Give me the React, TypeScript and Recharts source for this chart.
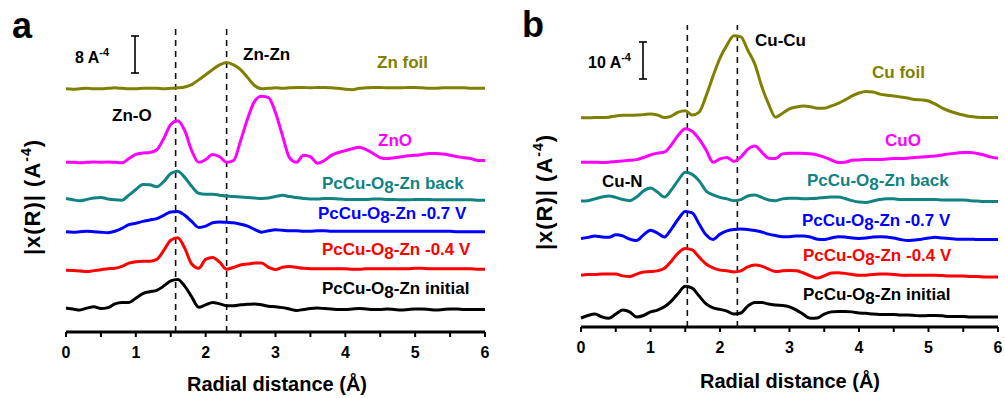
import React from 'react';
import { LineChart, Line, XAxis, YAxis, ReferenceLine } from 'recharts';

const FONT = '"Liberation Sans", Arial, Helvetica, sans-serif';

// radial distance grid (Å)
const radius = [
  0, 0.1, 0.2, 0.3, 0.4, 0.5, 0.6, 0.7, 0.8, 0.9,
  1, 1.1, 1.2, 1.3, 1.4, 1.5, 1.6, 1.7, 1.8, 1.9,
  2, 2.1, 2.2, 2.3, 2.4, 2.5, 2.6, 2.7, 2.8, 2.9,
  3, 3.1, 3.2, 3.3, 3.4, 3.5, 3.6, 3.7, 3.8, 3.9,
  4, 4.1, 4.2, 4.3, 4.4, 4.5, 4.6, 4.7, 4.8, 4.9,
  5, 5.1, 5.2, 5.3, 5.4, 5.5, 5.6, 5.7, 5.8, 5.9,
  6,
];

const xTicks = [0, 0.5, 1, 1.5, 2, 2.5, 3, 3.5, 4, 4.5, 5, 5.5, 6];

// ---- panel a : Zn K-edge, stacked |x(R)| ----
const znFoil = [
  51.9, 51.8, 51.9, 52.0, 51.9, 51.9, 52.0, 52.1, 52.0, 51.9,
  51.9, 52.0, 52.0, 52.0, 51.9, 52.0, 52.1, 52.3, 52.8, 53.8,
  54.9, 56.0, 57.0, 57.5, 57.0, 56.0, 54.3, 52.6, 51.9, 52.0,
  52.1, 52.0, 52.1, 52.2, 52.2, 52.1, 52.2, 52.2, 52.1, 52.0,
  51.8, 51.7, 52.0, 52.1, 52.2, 52.2, 52.1, 52.1, 52.1, 52.2,
  52.2, 52.1, 52.0, 52.0, 52.1, 52.1, 52.1, 52.1, 52.0, 52.0,
  52.0,
];
const znO = [
  36.2, 36.2, 36.1, 36.2, 36.3, 36.2, 36.3, 36.2, 36.1, 37.0,
  37.9, 38.2, 38.3, 38.9, 41.3, 44.3, 45.1, 43.0, 38.7, 36.2,
  36.8, 37.9, 37.4, 36.2, 36.6, 40.8, 45.5, 49.2, 50.3, 50.0,
  46.8, 41.9, 37.2, 36.2, 37.7, 37.4, 36.0, 36.6, 37.7, 38.3,
  38.7, 39.1, 39.4, 38.9, 38.1, 37.2, 37.0, 37.2, 37.4, 37.6,
  37.7, 37.9, 38.1, 38.1, 38.0, 37.7, 37.4, 37.2, 37.0, 36.6,
  36.6,
];
const znBack = [
  28.5, 28.2, 28.0, 28.3, 28.6, 28.7, 28.4, 28.2, 28.1, 29.2,
  30.4, 31.5, 31.4, 31.0, 32.1, 33.8, 34.3, 33.0, 31.1, 29.6,
  29.4, 29.4, 29.2, 29.0, 28.9, 28.8, 28.7, 28.6, 28.5, 28.6,
  28.9, 29.2, 28.9, 28.7, 28.5, 28.4, 28.4, 28.5, 28.5, 28.4,
  28.3, 28.3, 28.3, 28.3, 28.4, 28.4, 28.3, 28.3, 28.2, 28.2,
  28.3, 28.3, 28.3, 28.2, 28.2, 28.2, 28.2, 28.2, 28.2, 28.1,
  28.1,
];
const znMinus07 = [
  21.4, 21.3, 21.4, 21.5, 21.4, 21.3, 21.2, 21.5, 22.1, 22.9,
  23.2, 23.6, 23.9, 24.2, 24.9, 25.6, 25.7, 24.9, 23.6, 22.3,
  22.6, 23.3, 23.5, 23.4, 23.3, 23.0, 22.6, 21.9, 21.3, 21.6,
  21.8, 21.7, 21.6, 21.6, 21.5, 21.5, 21.6, 21.6, 21.5, 21.5,
  21.5, 21.5, 21.5, 21.5, 21.5, 21.5, 21.5, 21.5, 21.5, 21.5,
  21.5, 21.5, 21.5, 21.5, 21.5, 21.5, 21.4, 21.4, 21.4, 21.4,
  21.4,
];
const znMinus04 = [
  13.2, 13.1, 13.0, 12.9, 13.1, 13.3, 13.5, 13.6, 14.0, 14.7,
  15.0, 15.1, 15.1, 15.5, 17.4, 19.6, 20.1, 17.9, 14.5, 13.6,
  15.5, 15.9, 14.9, 13.4, 13.8, 14.3, 14.5, 14.7, 14.7, 13.8,
  13.3, 13.8, 14.0, 13.8, 13.6, 13.5, 13.5, 13.5, 13.5, 13.5,
  13.5, 13.4, 13.4, 13.5, 13.5, 13.5, 13.5, 13.5, 13.5, 13.5,
  13.6, 13.6, 13.5, 13.5, 13.5, 13.5, 13.5, 13.5, 13.5, 13.4,
  13.4,
];
const znInitial = [
  5.1, 4.9, 4.7, 5.1, 5.4, 5.0, 5.2, 6.0, 6.3, 6.3,
  7.2, 8.2, 8.6, 8.9, 9.8, 10.9, 11.2, 9.8, 7.5, 5.3,
  5.8, 6.3, 6.0, 5.6, 5.6, 5.8, 5.9, 6.0, 5.8, 5.5,
  5.4, 5.2, 4.9, 4.6, 4.8, 5.0, 5.1, 5.0, 4.9, 4.8,
  4.8, 4.9, 5.0, 4.9, 4.8, 4.8, 4.9, 4.8, 4.7, 4.8,
  4.9, 4.9, 4.8, 4.7, 4.8, 4.9, 4.9, 4.8, 4.8, 4.8,
  4.8,
];

// ---- panel b : Cu K-edge, stacked |x(R)| ----
const cuFoil = [
  58.1, 58.1, 58.2, 58.2, 58.3, 58.6, 58.8, 58.8, 58.9, 59.0,
  59.2, 58.9, 58.2, 58.6, 59.7, 60.1, 58.9, 59.7, 64.2, 69.7,
  74.7, 78.3, 80.9, 80.6, 76.9, 73.1, 66.9, 61.9, 58.3, 59.4,
  60.6, 61.1, 61.4, 61.2, 60.8, 60.8, 61.4, 62.1, 63.1, 64.2,
  65.0, 65.4, 65.3, 64.7, 64.4, 64.2, 63.9, 63.6, 63.2, 63.1,
  62.8, 61.9, 60.8, 60.0, 59.4, 58.9, 58.5, 58.3, 58.2, 58.2,
  58.2,
];
const cuO = [
  45.8, 45.8, 45.8, 45.7, 45.8, 46.0, 46.1, 46.3, 46.5, 47.1,
  47.8, 48.3, 48.6, 50.6, 53.3, 55.1, 54.4, 52.2, 49.2, 45.8,
  46.7, 47.1, 46.0, 47.2, 49.4, 50.3, 48.6, 46.9, 46.8, 48.1,
  48.3, 48.3, 48.2, 48.1, 47.8, 47.2, 46.4, 45.7, 45.8, 46.3,
  46.4, 46.5, 46.5, 46.5, 46.7, 46.8, 46.8, 46.9, 47.1, 47.2,
  47.4, 47.5, 47.8, 48.1, 48.3, 48.5, 48.5, 48.2, 47.8, 47.2,
  46.9,
];
const cuBack = [
  35.0, 35.1, 35.6, 36.1, 36.4, 36.0, 35.4, 35.1, 36.1, 37.8,
  38.6, 37.5, 36.1, 38.1, 40.8, 43.0, 42.4, 40.6, 37.8, 36.7,
  36.0, 35.6, 35.1, 35.4, 36.4, 36.7, 36.0, 35.3, 35.1, 35.6,
  35.8, 35.8, 35.6, 35.7, 35.8, 36.0, 36.1, 36.1, 35.7, 35.1,
  34.7, 34.6, 35.0, 35.4, 35.6, 35.6, 35.4, 35.4, 35.4, 35.4,
  35.4, 35.4, 35.3, 35.3, 35.3, 35.3, 35.1, 35.0, 34.9, 34.9,
  34.9,
];
const cuMinus07 = [
  24.6, 24.9, 25.3, 25.0, 24.9, 25.6, 25.3, 24.4, 24.0, 25.6,
  26.9, 26.1, 25.0, 27.2, 30.0, 32.1, 31.7, 28.6, 25.6, 24.3,
  25.8, 26.7, 27.1, 27.2, 27.1, 26.8, 26.4, 25.8, 25.4, 25.1,
  25.1, 25.3, 25.3, 25.0, 24.4, 24.3, 24.7, 25.1, 25.0, 24.7,
  24.6, 24.7, 25.0, 25.1, 25.0, 24.7, 24.3, 24.0, 24.2, 24.4,
  24.7, 24.9, 24.7, 24.6, 24.4, 24.4, 24.4, 24.3, 24.3, 24.3,
  24.3,
];
const cuMinus04 = [
  14.4, 14.6, 14.6, 14.7, 14.7, 14.7, 14.2, 14.0, 14.7, 15.3,
  15.4, 15.6, 16.3, 18.3, 20.6, 21.8, 21.4, 19.4, 17.5, 16.4,
  15.8, 15.6, 15.3, 15.6, 16.7, 17.2, 16.9, 16.1, 15.4, 15.6,
  15.7, 15.6, 15.0, 14.2, 13.6, 14.2, 15.0, 15.1, 14.9, 14.6,
  14.4, 14.4, 14.6, 14.7, 14.7, 14.6, 14.4, 14.4, 14.4, 14.4,
  14.4, 14.4, 14.3, 14.2, 14.2, 14.2, 14.0, 14.0, 13.9, 13.9,
  13.9,
];
const cuInitial = [
  2.5, 3.2, 3.6, 2.8, 2.4, 3.6, 4.7, 4.2, 2.8, 3.2,
  4.2, 4.7, 5.6, 7.2, 9.4, 11.3, 10.8, 8.6, 6.4, 5.3,
  4.9, 4.4, 3.6, 3.9, 5.8, 6.8, 6.8, 6.4, 6.1, 6.0,
  5.6, 4.7, 3.5, 2.4, 2.5, 3.6, 4.2, 4.3, 4.3, 4.2,
  3.9, 3.8, 3.6, 3.5, 3.5, 3.5, 3.3, 3.3, 3.2, 3.1,
  3.2, 3.2, 3.1, 2.9, 2.9, 2.9, 2.8, 2.8, 2.8, 2.8,
  2.8,
];

type Curve = { key: string; color: string; values: number[] };

const OLIVE = '#808000';
const MAGENTA = '#ff00ff';
const TEAL = '#118383';
const BLUE = '#0000ff';
const RED = '#ff0000';
const BLACK = '#000000';

const curvesA: Curve[] = [
  { key: 'foil', color: OLIVE, values: znFoil },
  { key: 'oxide', color: MAGENTA, values: znO },
  { key: 'back', color: TEAL, values: znBack },
  { key: 'm07', color: BLUE, values: znMinus07 },
  { key: 'm04', color: RED, values: znMinus04 },
  { key: 'initial', color: BLACK, values: znInitial },
];

const curvesB: Curve[] = [
  { key: 'foil', color: OLIVE, values: cuFoil },
  { key: 'oxide', color: MAGENTA, values: cuO },
  { key: 'back', color: TEAL, values: cuBack },
  { key: 'm07', color: BLUE, values: cuMinus07 },
  { key: 'm04', color: RED, values: cuMinus04 },
  { key: 'initial', color: BLACK, values: cuInitial },
];

const buildRows = (curves: Curve[]) =>
  radius.map((r, i) => {
    const row: Record<string, number> = { r };
    curves.forEach(c => {
      row[c.key] = c.values[i];
    });
    return row;
  });

const frame = { stroke: '#000', strokeWidth: 2.8 };

// bold tick digits; half-unit ticks get no label
const BoldTick = (props: any) => {
  const { x, y, payload } = props;
  const v = payload?.value;
  if (!Number.isInteger(v)) return <g />;
  return (
    <text x={x} y={y} dy="0.72em" textAnchor="middle" fill="#000" fontSize={16} fontWeight="bold" fontFamily={FONT}>
      {v}
    </text>
  );
};

interface PanelProps {
  curves: Curve[];
  yMax: number;
  dashes: number[];
  margin: { top: number; right: number; left: number; bottom: number };
  axisHeight: number;
  tickGap: number;
}

const Panel: React.FC<PanelProps> = ({ curves, yMax, dashes, margin, axisHeight, tickGap }) => (
  <LineChart width={500} height={398} data={buildRows(curves)} margin={margin}>
    <XAxis
      dataKey="r"
      type="number"
      domain={[0, 6]}
      ticks={xTicks}
      interval={0}
      height={axisHeight}
      axisLine={frame}
      tickLine={{ stroke: '#000', strokeWidth: 2 }}
      tickSize={5}
      tickMargin={tickGap}
      tick={BoldTick}
    />
    <XAxis xAxisId="top" orientation="top" type="number" domain={[0, 6]} height={0} tick={false} tickLine={false} axisLine={frame} />
    <YAxis type="number" domain={[0, yMax]} width={0} tick={false} tickLine={false} axisLine={frame} />
    <YAxis yAxisId="right" orientation="right" type="number" domain={[0, yMax]} width={0} tick={false} tickLine={false} axisLine={frame} />
    {dashes.map(x => (
      <ReferenceLine key={x} x={x} stroke="#111" strokeWidth={1.6} strokeDasharray="6 5" />
    ))}
    {curves.map(c => (
      <Line
        key={c.key}
        type="monotone"
        dataKey={c.key}
        stroke={c.color}
        strokeWidth={3}
        dot={false}
        isAnimationActive={false}
      />
    ))}
  </LineChart>
);

const Sample = ({ x, y, color, tail }: { x: number; y: number; color: string; tail: string }) => (
  <text x={x} y={y} fill={color} fontSize={17} fontWeight="bold">
    PcCu-O<tspan dy={4}>8</tspan>
    <tspan dy={-4}>{tail}</tspan>
  </text>
);

const ScaleBar = ({ x, y1, y2 }: { x: number; y1: number; y2: number }) => (
  <g stroke="#000" strokeWidth={1.6}>
    <line x1={x} x2={x} y1={y1} y2={y2} />
    <line x1={x - 4} x2={x + 4} y1={y1} y2={y1} />
    <line x1={x - 4} x2={x + 4} y1={y2} y2={y2} />
  </g>
);

const YTitle = ({ x, y }: { x: number; y: number }) => (
  <text transform={`translate(${x},${y}) rotate(-90)`} textAnchor="middle" fontSize={22} fontWeight="bold" letterSpacing={1}>
    |x(R)| (A<tspan dy={-9} fontSize={14}>-4</tspan>
    <tspan dy={9}>)</tspan>
  </text>
);

export default function App() {
  return (
    <div style={{ position: 'absolute', left: 0, top: 0, width: 1005, height: 398, background: '#fff', fontFamily: FONT }}>
      <div style={{ position: 'absolute', left: 0, top: 0 }}>
        <Panel
          curves={curvesA}
          yMax={65.3}
          dashes={[1.57, 2.3]}
          margin={{ top: 26, right: 15, left: 66, bottom: 0 }}
          axisHeight={66}
          tickGap={9}
        />
      </div>
      <div style={{ position: 'absolute', left: 505, top: 0 }}>
        <Panel
          curves={curvesB}
          yMax={83.9}
          dashes={[1.53, 2.25]}
          margin={{ top: 25, right: 7, left: 76, bottom: 0 }}
          axisHeight={71}
          tickGap={9}
        />
      </div>
      <svg width={1005} height={398} style={{ position: 'absolute', left: 0, top: 0, pointerEvents: 'none' }} fontFamily={FONT}>
        {/* panel a */}
        <text x={12} y={38} fontSize={36} fontWeight="bold">a</text>
        <YTitle x={40} y={197} />
        <text x={277} y={391} textAnchor="middle" fontSize={20} fontWeight="bold">Radial distance (Å)</text>
        <text x={75} y={63} fontSize={16} fontWeight="bold">
          8 A<tspan dy={-7} fontSize={11}>-4</tspan>
        </text>
        <ScaleBar x={135} y1={36} y2={73} />
        <text x={243} y={60} fontSize={17} fontWeight="bold">Zn-Zn</text>
        <text x={377} y={68} fontSize={17} fontWeight="bold" fill={OLIVE}>Zn foil</text>
        <text x={112} y={121} fontSize={17} fontWeight="bold">Zn-O</text>
        <text x={378} y={146} fontSize={17} fontWeight="bold" fill={MAGENTA}>ZnO</text>
        <Sample x={322} y={189} color={TEAL} tail="-Zn back" />
        <Sample x={318} y={219} color={BLUE} tail="-Zn -0.7 V" />
        <Sample x={322} y={255} color={RED} tail="-Zn -0.4 V" />
        <Sample x={322} y={294} color={BLACK} tail="-Zn initial" />

        {/* panel b */}
        <text x={522} y={37} fontSize={36} fontWeight="bold">b</text>
        <YTitle x={552} y={192} />
        <text x={790} y={388} textAnchor="middle" fontSize={20} fontWeight="bold">Radial distance (Å)</text>
        <text x={588} y={68} fontSize={16} fontWeight="bold">
          10 A<tspan dy={-7} fontSize={11}>-4</tspan>
        </text>
        <ScaleBar x={643} y1={42} y2={79} />
        <text x={755} y={46} fontSize={17} fontWeight="bold">Cu-Cu</text>
        <text x={872} y={78} fontSize={17} fontWeight="bold" fill={OLIVE}>Cu foil</text>
        <text x={885} y={146} fontSize={17} fontWeight="bold" fill={MAGENTA}>CuO</text>
        <text x={602} y={187} fontSize={17} fontWeight="bold">Cu-N</text>
        <Sample x={807} y={186} color={TEAL} tail="-Zn back" />
        <Sample x={802} y={226} color={BLUE} tail="-Zn -0.7 V" />
        <Sample x={803} y={261} color={RED} tail="-Zn -0.4 V" />
        <Sample x={803} y={300} color={BLACK} tail="-Zn initial" />
      </svg>
    </div>
  );
}
